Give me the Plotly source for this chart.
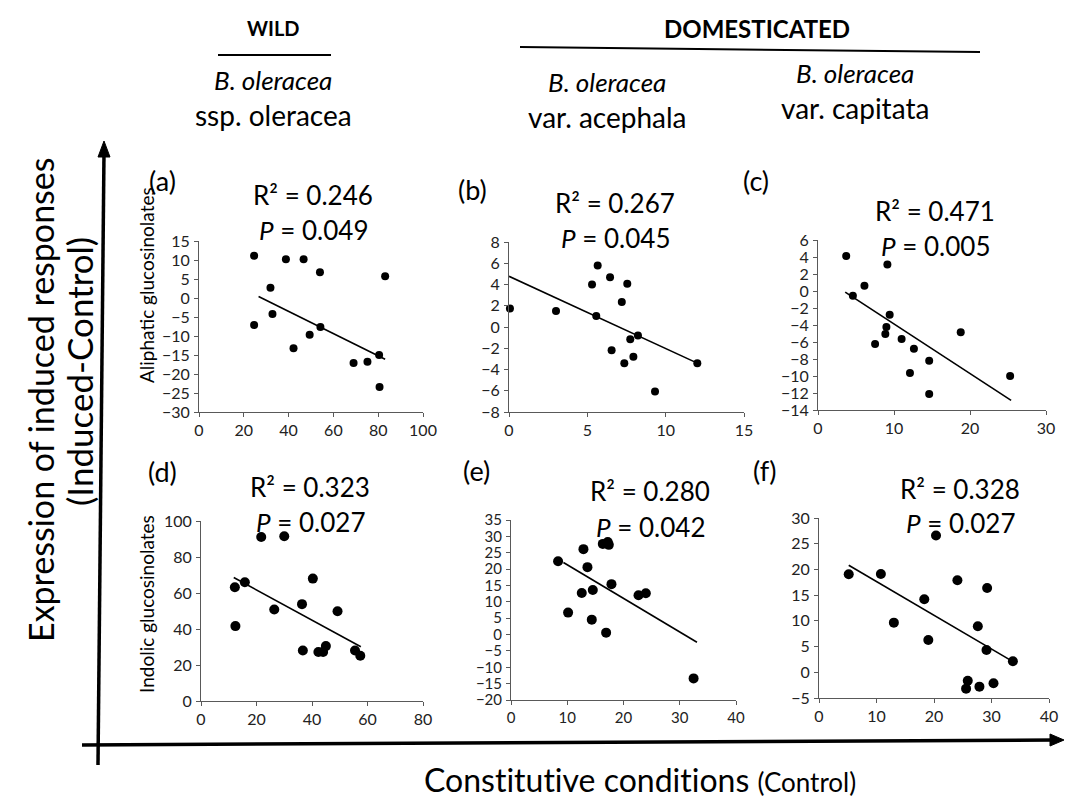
import plotly.graph_objects as go

# The page body has an 8px margin, so the figure is 16px smaller than the window
# and all reference pixel positions are shifted by 8px.
OFF = 8
W, H = 1072 - 2 * OFF, 809 - 2 * OFF

# ---------------- data ----------------
a_x = [24.6, 38.8, 46.7, 54.0, 83.1, 31.9, 32.8, 24.6, 54.2, 49.4, 42.2, 69.0, 75.2, 80.4, 80.6]
a_y = [11.1, 10.2, 10.2, 6.8, 5.7, 2.7, -4.2, -7.1, -7.6, -9.7, -13.2, -17.1, -16.8, -15.0, -23.4]
a_trend_x = [26.6, 83.1]
a_trend_y = [0.4, -16.1]

b_x = [0.06, 3.0, 5.66, 5.3, 6.45, 7.55, 7.2, 5.57, 7.74, 8.23, 6.55, 7.94, 7.36, 12.02, 9.32]
b_y = [1.73, 1.5, 5.8, 4.0, 4.68, 4.08, 2.36, 1.04, -1.15, -0.81, -2.19, -2.8, -3.4, -3.4, -6.08]
b_trend_x = [0.0, 12.02]
b_trend_y = [4.77, -3.4]

c_x = [3.71, 9.13, 6.11, 4.59, 9.43, 9.0, 8.86, 7.51, 11.0, 12.62, 18.78, 14.63, 12.1, 14.63, 25.28]
c_y = [4.12, 3.11, 0.61, -0.56, -2.79, -4.23, -5.05, -6.23, -5.64, -6.8, -4.86, -8.22, -9.66, -12.13, -10.0]
c_trend_x = [3.58, 25.41]
c_trend_y = [-0.13, -12.87]

d_x = [21.7, 30.0, 12.2, 15.8, 12.4, 26.4, 40.3, 36.4, 49.2, 36.7, 42.3, 44.0, 45.0, 55.5, 57.4]
d_y = [91.1, 91.5, 63.2, 66.0, 41.6, 50.8, 68.0, 53.8, 49.9, 28.1, 27.2, 27.2, 30.5, 28.1, 25.1]
d_trend_x = [11.8, 57.6]
d_trend_y = [68.6, 30.1]

e_x = [8.37, 12.88, 13.59, 12.58, 14.54, 10.15, 14.36, 16.91, 16.32, 17.2, 17.39, 17.86, 22.67, 23.97, 32.46]
e_y = [22.4, 26.1, 20.6, 12.7, 13.6, 6.7, 4.55, 0.58, 27.7, 28.3, 27.4, 15.4, 12.0, 12.6, -13.4]
e_trend_x = [9.32, 33.06]
e_trend_y = [22.0, -2.37]

f_x = [5.17, 10.76, 20.35, 18.31, 13.02, 19.01, 24.07, 29.24, 27.62, 29.13, 33.72, 25.87, 25.58, 27.9, 30.35]
f_y = [19.05, 19.1, 26.6, 14.2, 9.65, 6.28, 17.9, 16.4, 8.94, 4.34, 2.13, -1.63, -3.18, -2.79, -2.14]
f_trend_x = [5.17, 33.14]
f_trend_y = [20.8, 2.46]

panel_labels = ["(a)", "(b)", "(c)", "(d)", "(e)", "(f)"]
r2_labels = ["0.246", "0.267", "0.471", "0.323", "0.280", "0.328"]
p_labels = ["0.049", "0.045", "0.005", "0.027", "0.042", "0.027"]
row_labels = ["Aliphatic glucosinolates", "Indolic glucosinolates"]
group_labels = ["WILD", "DOMESTICATED"]
species_labels = [("B. oleracea", "ssp. oleracea"),
                  ("B. oleracea", "var. acephala"),
                  ("B. oleracea", "var. capitata")]

# ---------------- layout helpers ----------------
def px(x):
    return (x - OFF) / W

def py(y):
    return 1 - (y - OFF) / H

FONT = "Lato"
NOLIG = "font-variant-ligatures:none;font-feature-settings:'liga' 0"
panels = [
    dict(x=a_x, y=a_y, tx=a_trend_x, ty=a_trend_y, box=(199, 423, 241, 412), xr=[0, 100], xd=20, yr=[-30, 15], yd=5, ms=8, fs=16),
    dict(x=b_x, y=b_y, tx=b_trend_x, ty=b_trend_y, box=(509, 744, 242, 412), xr=[0, 15], xd=5, yr=[-8, 8], yd=2, ms=8, fs=16),
    dict(x=c_x, y=c_y, tx=c_trend_x, ty=c_trend_y, box=(818, 1046, 240, 410), xr=[0, 30], xd=10, yr=[-14, 6], yd=2, ms=8, fs=16),
    dict(x=d_x, y=d_y, tx=d_trend_x, ty=d_trend_y, box=(201, 423, 521, 701), xr=[0, 80], xd=20, yr=[0, 100], yd=20, ms=10, fs=16),
    dict(x=e_x, y=e_y, tx=e_trend_x, ty=e_trend_y, box=(511, 736, 520, 700), xr=[0, 40], xd=10, yr=[-20, 35], yd=5, ms=10, fs=15),
    dict(x=f_x, y=f_y, tx=f_trend_x, ty=f_trend_y, box=(819, 1049, 518, 698), xr=[0, 40], xd=10, yr=[-5, 30], yd=5, ms=10, fs=16),
]

fig = go.Figure()
layout = dict(
    width=W, height=H, margin=dict(l=0, r=0, t=0, b=0, autoexpand=False),
    paper_bgcolor="white", plot_bgcolor="white", showlegend=False,
    font=dict(family=FONT, color="black"),
)

for i, p in enumerate(panels):
    n = i + 1
    xa = "x" if n == 1 else f"x{n}"
    ya = "y" if n == 1 else f"y{n}"
    x0, x1, y0, y1 = p["box"]
    axis_common = dict(showgrid=False, zeroline=False, showline=True, linecolor="#595959",
                       linewidth=1, ticks="outside", ticklen=4, tickcolor="#595959",
                       tickfont=dict(family=FONT, size=p["fs"], color="#222"), fixedrange=True)
    layout["xaxis" if n == 1 else f"xaxis{n}"] = dict(
        domain=[px(x0), px(x1)], range=p["xr"], dtick=p["xd"], tick0=0,
        anchor=ya, **axis_common)
    layout["yaxis" if n == 1 else f"yaxis{n}"] = dict(
        domain=[py(y1), py(y0)], range=p["yr"], dtick=p["yd"], tick0=0,
        anchor=xa, ticklabelstandoff=1, **axis_common)
    fig.add_trace(go.Scatter(x=p["tx"], y=p["ty"], mode="lines", xaxis=xa, yaxis=ya,
                             line=dict(color="black", width=1.6), hoverinfo="skip"))
    fig.add_trace(go.Scatter(x=p["x"], y=p["y"], mode="markers", xaxis=xa, yaxis=ya,
                             marker=dict(color="black", size=p["ms"]), cliponaxis=False))

fig.update_layout(**layout)

ann = []
def text(x, y, s, size, angle=0, xanchor="center"):
    ann.append(dict(x=px(x), y=py(y), xref="paper", yref="paper", text=s, showarrow=False,
                    font=dict(family=FONT, size=size, color="black"), textangle=angle,
                    xanchor=xanchor, yanchor="middle"))

# header
text(273, 28, "<b>" + group_labels[0] + "</b>", 20)
text(757, 28, "<b>" + group_labels[1] + "</b>", 24)
sp_pos = [(273, 80, 115), (607, 82, 117), (855, 73, 108)]
for (cx, y1_, y2_), (l1, l2) in zip(sp_pos, species_labels):
    text(cx, y1_, "<i>" + l1 + "</i>", 26)
    text(cx, y2_, l2, 28)

# panel letters
letter_pos = [(162, 181), (472, 189), (756, 181), (162, 471), (476, 470), (765, 470)]
for (lx, ly), s in zip(letter_pos, panel_labels):
    text(lx, ly, s, 27)

# stats
stat_pos = [(313, 195, 230), (615, 203, 238), (935, 211, 246),
            (310, 487, 522), (650, 491, 527), (960, 489, 523)]
for (sx, r_y, p_y), r, pv in zip(stat_pos, r2_labels, p_labels):
    text(sx, r_y, "R² = " + r, 26)
    text(sx, p_y, "<i>P</i> = " + pv, 26)

# row labels
text(146, 285, row_labels[0], 19, angle=-90)
text(146, 604, row_labels[1], 19, angle=-90)

# big axis titles
text(41, 400, "Expression of induced responses", 34, angle=-90)
text(79, 372, "(Induced-Control)", 35, angle=-90)
ann.append(dict(x=px(640), y=py(779), xref="paper", yref="paper", showarrow=False,
                text=f"<span style=\"{NOLIG}\">Constitutive conditions </span><span style='font-size:26px'>(Control)</span>",
                font=dict(family=FONT, size=32, color="black"), xanchor="center", yanchor="middle"))

fig.update_layout(annotations=ann)

# lines & arrows
shapes = []
def line(x0, y0, x1, y1, w):
    shapes.append(dict(type="line", xref="paper", yref="paper", x0=px(x0), y0=py(y0),
                       x1=px(x1), y1=py(y1), line=dict(color="black", width=w)))
def tri(pts):
    path = "M " + " L ".join(f"{px(a)},{py(b)}" for a, b in pts) + " Z"
    shapes.append(dict(type="path", xref="paper", yref="paper", path=path,
                       fillcolor="black", line=dict(color="black", width=1)))

line(218, 55, 331, 55, 2)
line(520, 47, 980, 52, 2)
# vertical arrow
line(98, 765, 104, 152, 3.5)
tri([(104, 141), (98, 157), (110, 157)])
# horizontal arrow
line(82, 745, 1055, 740, 3.5)
tri([(1064, 740), (1050, 734), (1050, 746)])

fig.update_layout(shapes=shapes)
fig.write_html("out.html")
